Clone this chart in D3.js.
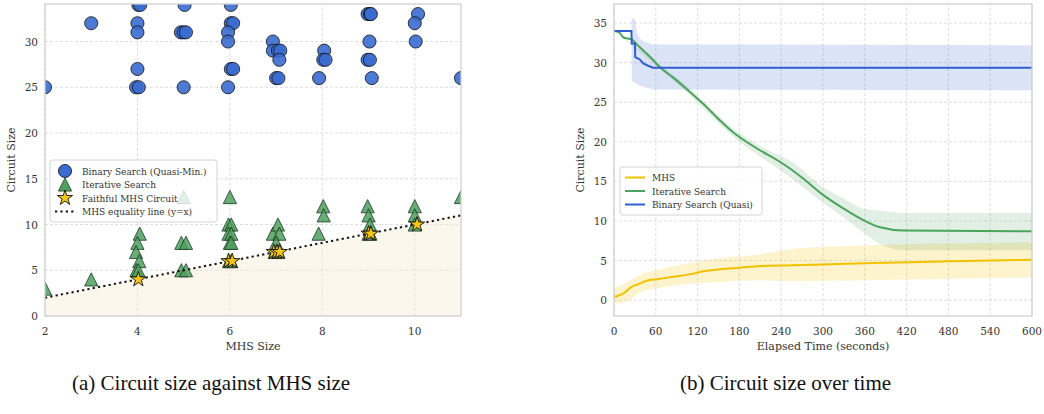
<!DOCTYPE html>
<html>
<head>
<meta charset="utf-8">
<script src="https://cdn.jsdelivr.net/npm/d3@7"></script>
<style>
    body { margin: 0; background: #fff; }
    svg { display: block; }
    svg text { font-family: "DejaVu Serif", "Liberation Serif", "Noto Serif", "Times New Roman", serif; }
    svg text.caption { font-family: "Liberation Serif", "Times New Roman", "DejaVu Serif", serif; }
</style>
</head>
<body>
<svg width="1044" height="414"></svg>
<script>
// Panel (a): circuit size against MHS size
const binaryX = [2, 3, 4.02, 4.06, 4.0, 4.0, 4.0, 3.97, 4.03, 5.02, 4.94, 5.0, 5.05, 5.0, 6.02, 6.02, 6.07, 5.96, 5.96, 6.02, 6.07, 5.96,
    6.93, 6.93, 7.04, 7.09, 7.07, 7.0, 7.05, 7.93, 8.04, 8.02, 8.07, 8.98, 9.03, 9.05, 9.02, 8.98, 9.03, 9.07, 10.07, 10.0, 10.02, 11];
const binaryY = [25, 32, 34, 34, 32, 31, 27, 25, 25, 34, 31, 31, 31, 25, 34, 32, 32, 31, 30, 27, 27, 25,
    30, 29, 29, 29, 28, 26, 26, 26, 29, 28, 28, 33, 33, 33, 30, 28, 28, 26, 33, 32, 30, 26];

const iterX = [2, 3, 4.05, 4.0, 3.97, 4.04, 3.98, 4.02, 4.95, 5.05, 4.95, 5.05, 5.0,
    6.0, 5.97, 6.03, 5.97, 6.03, 6.0, 6.03, 5.98, 6.03,
    6.93, 7.04, 7.07, 7.0, 6.97, 7.05, 8.02, 8.03, 7.92,
    8.98, 9.0, 9.03, 9.0, 9.04, 10.0, 10.0, 10.0, 11];
const iterY = [3, 4, 9, 8, 7, 6, 5, 5, 8, 8, 5, 5, 13,
    13, 10, 10, 9, 9, 8, 8, 6, 6,
    9, 10, 9, 8, 7, 7, 12, 11, 9,
    12, 11, 10, 9, 9, 12, 11, 10, 13];

const faithfulX = [4.02, 5.97, 6.05, 6.95, 7.02, 7.08, 9.0, 9.05, 10.05];
const faithfulY = [4, 6, 6, 7, 7, 7, 9, 9, 10];

const equalityX = [2, 11];
const leftXTicks = [2, 4, 6, 8, 10];
const leftYTicks = [0, 5, 10, 15, 20, 25, 30];

// Panel (b): circuit size over time
const mhsTime = [0, 4, 16, 23, 37, 47, 62, 85, 114, 128, 152, 181, 210, 257, 300, 372, 482, 600];
const mhsMean = [0.4, 0.5, 1.0, 1.55, 2.1, 2.45, 2.65, 2.95, 3.35, 3.65, 3.9, 4.1, 4.3, 4.4, 4.5, 4.7, 4.9, 5.1];
const mhsBandTime = [0, 16, 37, 62, 114, 152, 210, 257, 360, 600];
const mhsUpper = [1.5, 2.1, 3.15, 3.8, 4.8, 5.3, 5.8, 6.5, 6.9, 7.3];
const mhsLower = [-0.4, -0.25, 1.0, 1.5, 2.1, 2.3, 2.5, 2.4, 2.5, 2.9];

const iterTime = [0, 8, 13, 26, 34, 52, 66, 85, 105, 114, 128, 152, 171, 190, 210, 234, 253, 271, 300, 329, 358, 382, 415, 600];
const iterMean = [34, 33.8, 33.2, 32.9, 32.2, 30.7, 29.4, 28.1, 26.6, 25.9, 24.8, 22.7, 21.2, 20.0, 18.9, 17.7, 16.6, 15.4, 13.3, 11.6, 10.1, 9.2, 8.8, 8.7];
const iterBandTime = [0, 100, 180, 220, 253, 300, 330, 360, 380, 400, 420, 600];
const iterUpper = [34, 27.4, 21.1, 19.0, 17.6, 14.3, 12.8, 11.5, 11.3, 11.1, 11.0, 11.0];
const iterLower = [34, 26.6, 20.0, 17.5, 15.5, 12.3, 10.4, 8.4, 7.2, 6.5, 6.3, 6.3];

const binTime = [0, 25, 25.5, 30, 30.5, 37, 42, 49, 56, 600];
const binMean = [34, 34, 32.4, 32.4, 30.7, 30.4, 29.9, 29.6, 29.35, 29.35];
const binBandTime = [0, 25, 25.5, 30, 33, 37, 44, 56, 600];
const binUpper = [34, 34, 35.6, 35.5, 33.8, 33.0, 32.6, 32.3, 32.2];
const binLower = [34, 34, 27.6, 27.5, 27.3, 27.1, 26.9, 26.6, 26.5];

const rightXTicks = [0, 60, 120, 180, 240, 300, 360, 420, 480, 540, 600];
const rightYTicks = [0, 5, 10, 15, 20, 25, 30, 35];

// Colours
const blue = '#3a6bd0';
const green = '#4f9f5f';
const gold = '#f5c518';
const lineYellow = '#f2c200';
const lineGreen = '#4ca35c';
const lineBlue = '#2f5fd0';

const svg = d3.select('svg');
const defs = svg.append('defs');

// Draw grid, ticks and labels for one panel
function drawAxes(id, x, y, xTicks, yTicks, xLabel, yLabel) {
    const [x0, x1] = x.range();
    const [y0, y1] = y.range();

    defs.append('clipPath').attr('id', id)
        .append('rect')
        .attr('x', x0).attr('y', y1)
        .attr('width', x1 - x0).attr('height', y0 - y1);

    const grid = svg.append('g').attr('class', 'grid');
    grid.selectAll('line.gx')
        .data(xTicks)
        .enter()
        .append('line')
        .attr('x1', (d) => x(d)).attr('x2', (d) => x(d))
        .attr('y1', y0).attr('y2', y1);
    grid.selectAll('line.gy')
        .data(yTicks)
        .enter()
        .append('line')
        .attr('y1', (d) => y(d)).attr('y2', (d) => y(d))
        .attr('x1', x0).attr('x2', x1);
    grid.selectAll('line')
        .attr('stroke', '#d6d6d6')
        .attr('stroke-width', 0.8)
        .attr('stroke-dasharray', '3,2');

    const labels = svg.append('g')
        .attr('font-size', 10.5)
        .attr('fill', '#333');
    labels.selectAll('text.xt')
        .data(xTicks)
        .enter()
        .append('text')
        .attr('x', (d) => x(d))
        .attr('y', y0 + 19)
        .attr('text-anchor', 'middle')
        .text((d) => d);
    labels.selectAll('text.yt')
        .data(yTicks)
        .enter()
        .append('text')
        .attr('x', x0 - 7)
        .attr('y', (d) => y(d) + 4)
        .attr('text-anchor', 'end')
        .text((d) => d);

    svg.append('text')
        .attr('x', (x0 + x1) / 2)
        .attr('y', y0 + 34)
        .attr('text-anchor', 'middle')
        .attr('font-size', 11)
        .attr('fill', '#333')
        .text(xLabel);
    svg.append('text')
        .attr('transform', `translate(${x0 - 30},${(y0 + y1) / 2}) rotate(-90)`)
        .attr('text-anchor', 'middle')
        .attr('font-size', 11)
        .attr('fill', '#333')
        .text(yLabel);
}

function drawFrame(x, y) {
    const [x0, x1] = x.range();
    const [y0, y1] = y.range();
    svg.append('rect')
        .attr('x', x0).attr('y', y1)
        .attr('width', x1 - x0).attr('height', y0 - y1)
        .attr('fill', 'none')
        .attr('stroke', '#cfcfcf')
        .attr('stroke-width', 1.25);
}

// Marker shapes
const circlePath = d3.symbol().type(d3.symbolCircle).size(135)();
const trianglePath = 'M0,-6.6L6.6,6.6L-6.6,6.6Z';
const starPath = d3.symbol().type(d3.symbolStar).size(72)();

// ---------- Panel (a) ----------
const xa = d3.scaleLinear().domain([2, 11]).range([45, 461]);
const ya = d3.scaleLinear().domain([0, 34.1]).range([316, 4]);

drawAxes('clipA', xa, ya, leftXTicks, leftYTicks, 'MHS Size', 'Circuit Size');

const panelA = svg.append('g').attr('clip-path', 'url(#clipA)');

// Region below the equality line
panelA.append('path')
    .datum(equalityX)
    .attr('d', d3.area().x((d) => xa(d)).y0(ya(0)).y1((d) => ya(d)))
    .attr('fill', '#f7ecd0')
    .attr('fill-opacity', 0.4);

panelA.append('g')
    .selectAll('path')
    .data(binaryX.map((d, i) => [d, binaryY[i]]))
    .enter()
    .append('path')
    .attr('d', circlePath)
    .attr('transform', (d) => `translate(${xa(d[0])},${ya(d[1])})`)
    .attr('fill', blue)
    .attr('fill-opacity', 0.9)
    .attr('stroke', '#111')
    .attr('stroke-width', 0.8);

panelA.append('g')
    .selectAll('path')
    .data(iterX.map((d, i) => [d, iterY[i]]))
    .enter()
    .append('path')
    .attr('d', trianglePath)
    .attr('transform', (d) => `translate(${xa(d[0])},${ya(d[1])})`)
    .attr('fill', green)
    .attr('fill-opacity', 0.85)
    .attr('stroke', '#1c3a22')
    .attr('stroke-width', 0.8);

panelA.append('path')
    .datum(equalityX)
    .attr('d', d3.line().x((d) => xa(d)).y((d) => ya(d)))
    .attr('fill', 'none')
    .attr('stroke', '#111')
    .attr('stroke-width', 2)
    .attr('stroke-dasharray', '2.2,3.2');

panelA.append('g')
    .selectAll('path')
    .data(faithfulX.map((d, i) => [d, faithfulY[i]]))
    .enter()
    .append('path')
    .attr('d', starPath)
    .attr('transform', (d) => `translate(${xa(d[0])},${ya(d[1])})`)
    .attr('fill', gold)
    .attr('stroke', '#111')
    .attr('stroke-width', 0.9);

drawFrame(xa, ya);

// Legend (a)
const legA = svg.append('g');
legA.append('rect')
    .attr('x', 50).attr('y', 160)
    .attr('width', 167).attr('height', 62)
    .attr('rx', 3)
    .attr('fill', '#fff')
    .attr('fill-opacity', 0.8)
    .attr('stroke', '#d4d4d4');
const legAItems = [
    { label: 'Binary Search (Quasi-Min.)', type: 'circle' },
    { label: 'Iterative Search', type: 'triangle' },
    { label: 'Faithful MHS Circuit', type: 'star' },
    { label: 'MHS equality line (y=x)', type: 'dotted' },
];
legAItems.forEach((item, i) => {
    const cy = 171 + i * 13.5;
    if (item.type === 'circle') {
        legA.append('path').attr('d', circlePath)
            .attr('transform', `translate(65,${cy})`)
            .attr('fill', blue).attr('stroke', '#111').attr('stroke-width', 0.8);
    } else if (item.type === 'triangle') {
        legA.append('path').attr('d', trianglePath)
            .attr('transform', `translate(65,${cy})`)
            .attr('fill', green).attr('stroke', '#1c3a22').attr('stroke-width', 0.8);
    } else if (item.type === 'star') {
        legA.append('path').attr('d', starPath)
            .attr('transform', `translate(65,${cy})`)
            .attr('fill', gold).attr('stroke', '#111').attr('stroke-width', 0.9);
    } else {
        legA.append('line')
            .attr('x1', 55).attr('x2', 76).attr('y1', cy).attr('y2', cy)
            .attr('stroke', '#111').attr('stroke-width', 2)
            .attr('stroke-dasharray', '2.2,3.2');
    }
    legA.append('text')
        .attr('x', 82).attr('y', cy + 3.5)
        .attr('font-size', 9)
        .attr('fill', '#333')
        .text(item.label);
});

// ---------- Panel (b) ----------
const xb = d3.scaleLinear().domain([0, 600]).range([614, 1032]);
const yb = d3.scaleLinear().domain([-2.0, 37.4]).range([316, 4]);

drawAxes('clipB', xb, yb, rightXTicks, rightYTicks, 'Elapsed Time (seconds)', 'Circuit Size');

const panelB = svg.append('g').attr('clip-path', 'url(#clipB)');

const series = [
    { t: mhsTime, mean: mhsMean, bt: mhsBandTime, lo: mhsLower, hi: mhsUpper, color: lineYellow, band: '#f5c400', op: 0.2, curve: d3.curveMonotoneX },
    { t: iterTime, mean: iterMean, bt: iterBandTime, lo: iterLower, hi: iterUpper, color: lineGreen, band: '#4ca35c', op: 0.17, curve: d3.curveMonotoneX },
    { t: binTime, mean: binMean, bt: binBandTime, lo: binLower, hi: binUpper, color: lineBlue, band: '#3a6bd0', op: 0.18, curve: d3.curveLinear },
];

// Spread bands first, mean lines on top
series.forEach((s) => {
    panelB.append('path')
        .datum(s.bt.map((d, i) => [d, s.lo[i], s.hi[i]]))
        .attr('d', d3.area()
            .curve(s.curve)
            .x((d) => xb(d[0]))
            .y0((d) => yb(d[1]))
            .y1((d) => yb(d[2])))
        .attr('fill', s.band)
        .attr('fill-opacity', s.op);
});
series.forEach((s) => {
    panelB.append('path')
        .datum(s.t.map((d, i) => [d, s.mean[i]]))
        .attr('d', d3.line()
            .curve(s.curve)
            .x((d) => xb(d[0]))
            .y((d) => yb(d[1])))
        .attr('fill', 'none')
        .attr('stroke', s.color)
        .attr('stroke-width', 2);
});

drawFrame(xb, yb);

// Legend (b)
const legB = svg.append('g');
legB.append('rect')
    .attr('x', 620).attr('y', 167)
    .attr('width', 142).attr('height', 48)
    .attr('rx', 3)
    .attr('fill', '#fff')
    .attr('fill-opacity', 0.8)
    .attr('stroke', '#d4d4d4');
const legBItems = [
    { label: 'MHS', color: lineYellow },
    { label: 'Iterative Search', color: lineGreen },
    { label: 'Binary Search (Quasi)', color: lineBlue },
];
legBItems.forEach((item, i) => {
    const cy = 177.5 + i * 13.5;
    legB.append('line')
        .attr('x1', 625).attr('x2', 645).attr('y1', cy).attr('y2', cy)
        .attr('stroke', item.color).attr('stroke-width', 2);
    legB.append('text')
        .attr('x', 652).attr('y', cy + 3.5)
        .attr('font-size', 9)
        .attr('fill', '#333')
        .text(item.label);
});

// Captions
const captions = [
    { x: 72, text: '(a) Circuit size against MHS size' },
    { x: 680, text: '(b) Circuit size over time' },
];
svg.selectAll('text.caption')
    .data(captions)
    .enter()
    .append('text')
    .attr('class', 'caption')
    .attr('x', (d) => d.x)
    .attr('y', 390)
    .attr('text-anchor', 'start')
    .attr('font-size', 21)
    .attr('fill', '#111')
    .text((d) => d.text);
</script>
</body>
</html>
